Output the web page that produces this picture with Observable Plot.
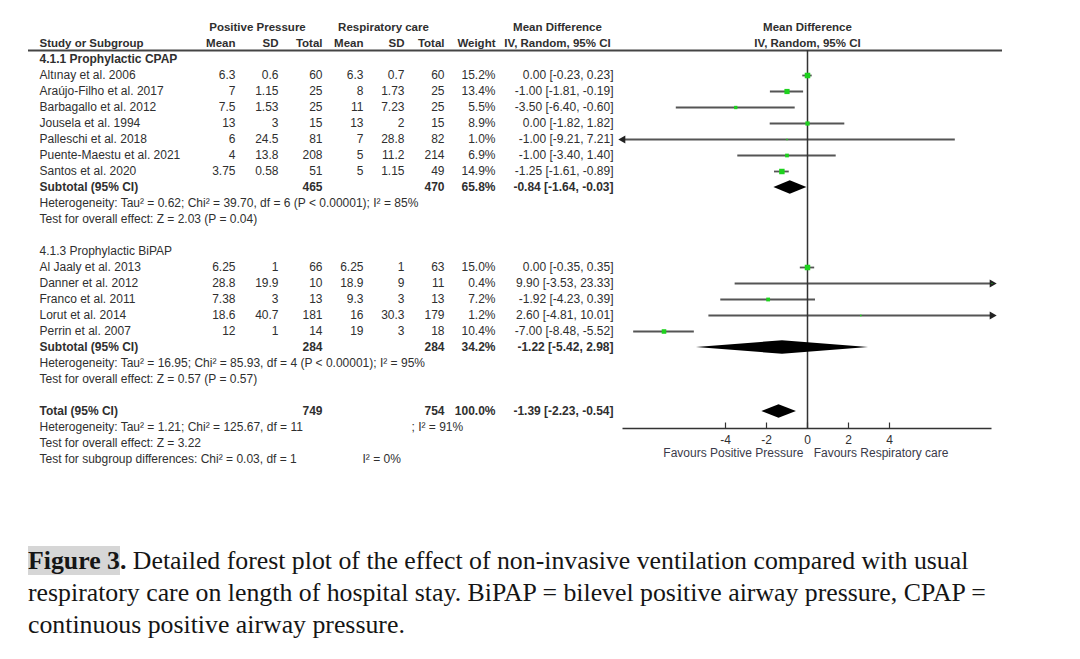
<!DOCTYPE html>
<html><head><meta charset="utf-8">
<script src="https://cdn.jsdelivr.net/npm/d3@7"></script>
<script src="https://cdn.jsdelivr.net/npm/@observablehq/plot@0.6"></script>
<style>
body{margin:0;background:#fff;}
#chart svg{display:block;}
#caption{font-family:"Liberation Serif","Times New Roman",serif;font-size:25.8px;line-height:32px;color:#151515;margin:75px 0 0 28px;white-space:nowrap;}
#caption .hl{background:#d6d6d6;}
</style></head><body><div id="chart"></div>
<div id="caption"><b><span class="hl">Figure 3</span>.</b> Detailed forest plot of the effect of non-invasive ventilation compared with usual<br>respiratory care on length of hospital stay. BiPAP = bilevel positive airway pressure, CPAP =<br>continuous positive airway pressure.</div>
<script>
// ---------- data ----------
const cpapStudies = ["Altınay et al. 2006", "Araújo-Filho et al. 2017", "Barbagallo et al. 2012", "Jousela et al. 1994", "Palleschi et al. 2018", "Puente-Maestu et al. 2021", "Santos et al. 2020"];
const cpapPPMean = [6.3, 7, 7.5, 13, 6, 4, 3.75];
const cpapPPSD = [0.6, 1.15, 1.53, 3, 24.5, 13.8, 0.58];
const cpapPPN = [60, 25, 25, 15, 81, 208, 51];
const cpapRCMean = [6.3, 8, 11, 13, 7, 5, 5];
const cpapRCSD = [0.7, 1.73, 7.23, 2, 28.8, 11.2, 1.15];
const cpapRCN = [60, 25, 25, 15, 82, 214, 49];
const cpapWeight = [15.2, 13.4, 5.5, 8.9, 1.0, 6.9, 14.9];
const cpapMD = [0.00, -1.00, -3.50, 0.00, -1.00, -1.00, -1.25];
const cpapLo = [-0.23, -1.81, -6.40, -1.82, -9.21, -3.40, -1.61];
const cpapHi = [0.23, -0.19, -0.60, 1.82, 7.21, 1.40, -0.89];

const bipapStudies = ["Al Jaaly et al. 2013", "Danner et al. 2012", "Franco et al. 2011", "Lorut et al. 2014", "Perrin et al. 2007"];
const bipapPPMean = [6.25, 28.8, 7.38, 18.6, 12];
const bipapPPSD = [1, 19.9, 3, 40.7, 1];
const bipapPPN = [66, 10, 13, 181, 14];
const bipapRCMean = [6.25, 18.9, 9.3, 16, 19];
const bipapRCSD = [1, 9, 3, 30.3, 3];
const bipapRCN = [63, 11, 13, 179, 18];
const bipapWeight = [15.0, 0.4, 7.2, 1.2, 10.4];
const bipapMD = [0.00, 9.90, -1.92, 2.60, -7.00];
const bipapLo = [-0.35, -3.53, -4.23, -4.81, -8.48];
const bipapHi = [0.35, 23.33, 0.39, 10.01, -5.52];

const summaryLabels = ["Subtotal (95% CI)", "Subtotal (95% CI)", "Total (95% CI)"];
const summaryPPN = [465, 284, 749];
const summaryRCN = [470, 284, 754];
const summaryWeight = [65.8, 34.2, 100.0];
const summaryMD = [-0.84, -1.22, -1.39];
const summaryLo = [-1.64, -5.42, -2.23];
const summaryHi = [-0.03, 2.98, -0.54];

const subgroupTitles = ["4.1.1 Prophylactic CPAP", "4.1.3 Prophylactic BiPAP"];
const heterogeneityTexts = [
  "Heterogeneity: Tau² = 0.62; Chi² = 39.70, df = 6 (P < 0.00001); I² = 85%",
  "Heterogeneity: Tau² = 16.95; Chi² = 85.93, df = 4 (P < 0.00001); I² = 95%",
  "Heterogeneity: Tau² = 1.21; Chi² = 125.67, df = 11"
];
const overallEffectTexts = [
  "Test for overall effect: Z = 2.03 (P = 0.04)",
  "Test for overall effect: Z = 0.57 (P = 0.57)",
  "Test for overall effect: Z = 3.22"
];
const subgroupDiffText = "Test for subgroup differences: Chi² = 0.03, df = 1";
const totalI2Text = "; I² = 91%";
const subgroupI2Text = "I² = 0%";
const xTicks = [-4, -2, 0, 2, 4];
const favoursLeft = "Favours Positive Pressure";
const favoursRight = "Favours Respiratory care";

// ---------- build table ----------
const f2 = v => d3.format(".2f")(v).replace("−", "-");
const ciText = (m, l, h) => `${f2(m)} [${f2(l)}, ${f2(h)}]`;
const wText = w => d3.format(".1f")(w) + "%";

const rows = [];
function addStudies(names, ppM, ppS, ppN, rcM, rcS, rcN, w, md, lo, hi, start) {
  names.forEach((name, i) => rows.push({
    r: start + i, name, kind: "study",
    ppMean: String(ppM[i]), ppSD: String(ppS[i]), ppN: String(ppN[i]),
    rcMean: String(rcM[i]), rcSD: String(rcS[i]), rcN: String(rcN[i]),
    weight: wText(w[i]), ci: ciText(md[i], lo[i], hi[i]),
    md: md[i], lo: lo[i], hi: hi[i], w: w[i]
  }));
}
rows.push({r: 2, name: subgroupTitles[0], kind: "title", bold: true});
addStudies(cpapStudies, cpapPPMean, cpapPPSD, cpapPPN, cpapRCMean, cpapRCSD, cpapRCN, cpapWeight, cpapMD, cpapLo, cpapHi, 3);
rows.push({r: 14, name: subgroupTitles[1], kind: "title", bold: false});
addStudies(bipapStudies, bipapPPMean, bipapPPSD, bipapPPN, bipapRCMean, bipapRCSD, bipapRCN, bipapWeight, bipapMD, bipapLo, bipapHi, 15);
const summaryRows = [10, 20, 24];
summaryRows.forEach((rr, i) => rows.push({
  r: rr, name: summaryLabels[i], kind: "summary", bold: true,
  ppN: String(summaryPPN[i]), rcN: String(summaryRCN[i]),
  weight: wText(summaryWeight[i]), ci: ciText(summaryMD[i], summaryLo[i], summaryHi[i])
}));
[11, 21, 25].forEach((rr, i) => rows.push({r: rr, name: heterogeneityTexts[i], kind: "note"}));
[12, 22, 26].forEach((rr, i) => rows.push({r: rr, name: overallEffectTexts[i], kind: "note"}));
rows.push({r: 27, name: subgroupDiffText, kind: "note"});

const studies = rows.filter(d => d.kind === "study");

// diamonds
const diamondPts = [];
summaryRows.forEach((rr, i) => {
  const h = 0.42;
  diamondPts.push({id: i, x: summaryLo[i], y1: rr, y2: rr});
  diamondPts.push({id: i, x: summaryMD[i], y1: rr - h, y2: rr + h});
  diamondPts.push({id: i, x: summaryHi[i], y1: rr, y2: rr});
});

// ---------- layout ----------
const ML = 28, MR = 78;
const DOMAIN = [-9, 9];
const columns = [
  {key: "name", px: 39, anchor: "start"},
  {key: "ppMean", px: 235, anchor: "end"},
  {key: "ppSD", px: 278, anchor: "end"},
  {key: "ppN", px: 322, anchor: "end"},
  {key: "rcMean", px: 363, anchor: "end"},
  {key: "rcSD", px: 404, anchor: "end"},
  {key: "rcN", px: 444, anchor: "end"},
  {key: "weight", px: 495, anchor: "end"},
  {key: "ci", px: 613, anchor: "end"}
];
const textColor = "#2f2f2f";
const headSize = "11.5px";
const tableMarks = [];
columns.forEach(c => {
  [false, true].forEach(b => {
    const data = rows.filter(d => d[c.key] != null && !!d.bold === b);
    tableMarks.push(Plot.text(data, {
      y: "r", text: c.key, frameAnchor: "left", dx: c.px - ML,
      textAnchor: c.anchor, fontWeight: b ? "bold" : "normal", fill: textColor
    }));
  });
});
// header rows
const headerTop = [
  {t: "Positive Pressure", px: 257, a: "middle"},
  {t: "Respiratory care", px: 383, a: "middle"},
  {t: "Mean Difference", px: 557, a: "middle"}
];
const headerSub = [
  {t: "Study or Subgroup", px: 39, a: "start"},
  {t: "Mean", px: 235, a: "end"}, {t: "SD", px: 278, a: "end"}, {t: "Total", px: 322, a: "end"},
  {t: "Mean", px: 363, a: "end"}, {t: "SD", px: 404, a: "end"}, {t: "Total", px: 444, a: "end"},
  {t: "Weight", px: 495, a: "end"}, {t: "IV, Random, 95% CI", px: 557, a: "middle"}
];
[[headerTop, 0], [headerSub, 1]].forEach(([hs, rr]) => hs.forEach(h => {
  tableMarks.push(Plot.text([h.t], {y: rr, text: d => d, frameAnchor: "left", dx: h.px - ML, textAnchor: h.a, fontWeight: "bold", fontSize: headSize, fill: textColor}));
}));
tableMarks.push(Plot.text([totalI2Text], {y: 25, text: d => d, frameAnchor: "left", dx: 411 - ML, textAnchor: "start", fill: textColor}));
tableMarks.push(Plot.text([subgroupI2Text], {y: 27, text: d => d, frameAnchor: "left", dx: 362 - ML, textAnchor: "start", fill: textColor}));

const AXIS_ROW = 25.06, TOP_ROW = 1.44;
const ciColor = "#555";

const chart = Plot.plot({
  width: 1080, height: 470,
  marginLeft: ML, marginRight: MR, marginTop: 0, marginBottom: 0,
  x: {domain: DOMAIN, range: [622.5, 991.5], clamp: true, axis: null},
  y: {domain: [0, 28], range: [27, 27 + 16 * 28], axis: null},
  r: {type: "sqrt", domain: [0, 16], range: [0, 3.2]},
  style: {fontFamily: "'Liberation Sans', Arial, sans-serif", fontSize: "12px", background: "#fff", color: textColor},
  marks: [
    // header rule
    Plot.ruleY([TOP_ROW], {stroke: "#444", strokeWidth: 2}),
    // forest headers
    Plot.text(["Mean Difference"], {x: 0, y: 0, text: d => d, fontWeight: "bold", fontSize: headSize, fill: textColor}),
    Plot.text(["IV, Random, 95% CI"], {x: 0, y: 1, text: d => d, fontWeight: "bold", fontSize: headSize, fill: textColor}),
    ...tableMarks,
    // CI lines
    Plot.ruleY(studies, {y: "r", x1: "lo", x2: "hi", stroke: ciColor, strokeWidth: 1.8}),
    // zero line
    Plot.ruleX([0], {y1: TOP_ROW, y2: AXIS_ROW, stroke: "#333", strokeWidth: 1.5}),
    // arrows for truncated CIs
    Plot.dot(studies.filter(d => d.hi > DOMAIN[1]), {x: "hi", y: "r", symbol: "triangle", r: 3, rotate: 90, fill: "#222"}),
    Plot.dot(studies.filter(d => d.lo < DOMAIN[0]), {x: "lo", y: "r", symbol: "triangle", r: 3, rotate: -90, fill: "#222"}),
    // point estimates
    Plot.dot(studies, {x: "md", y: "r", r: "w", symbol: "square", fill: "#1ed21e"}),
    // diamonds
    Plot.areaY(diamondPts, {x: "x", y1: "y1", y2: "y2", z: "id", fill: "black", curve: "linear"}),
    // axis
    Plot.ruleY([AXIS_ROW], {x1: DOMAIN[0], x2: DOMAIN[1], stroke: "#333", strokeWidth: 1.5}),
    Plot.ruleX(xTicks, {x: d => d, y1: 24.72, y2: AXIS_ROW, stroke: "#333", strokeWidth: 1.2}),
    Plot.text(xTicks, {x: d => d, y: 25.8, text: d => String(d), fill: textColor}),
    Plot.text([favoursLeft], {x: -0.2, y: 26.62, text: d => d, textAnchor: "end", fill: "#3a3a4a"}),
    Plot.text([favoursRight], {x: 0.3, y: 26.62, text: d => d, textAnchor: "start", fill: "#3a3a4a"})
  ]
});
document.getElementById("chart").appendChild(chart);
</script></body></html>
